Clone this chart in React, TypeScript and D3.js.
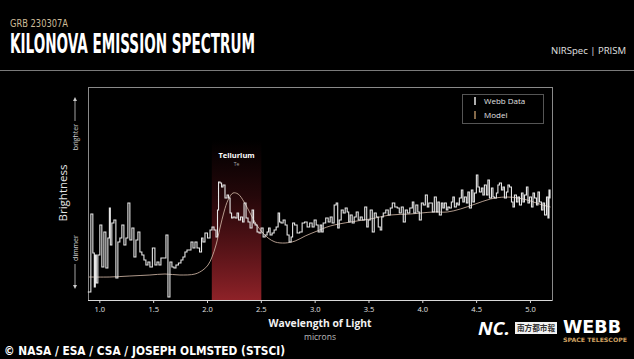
import * as d3 from "d3";

// Webb NIRSpec/PRISM spectrum, [wavelength (microns), brightness (arb.)]
const webbSpectrum: [number, number][] = [
  [0.888, 8], [0.907, 8], [0.926, 86], [0.944, 47], [0.953, 13], [0.963, 45], [0.972, 17], [0.991, 45],
  [1.009, 75], [1.028, 33], [1.047, 68], [1.065, 32], [1.084, 62], [1.093, 92], [1.102, 55], [1.121, 77],
  [1.14, 80], [1.158, 22], [1.177, 58], [1.195, 62], [1.214, 75], [1.233, 55], [1.251, 62], [1.27, 97],
  [1.288, 60], [1.307, 72], [1.326, 43], [1.344, 60], [1.363, 68], [1.381, 48], [1.4, 45], [1.419, 40],
  [1.437, 35], [1.456, 38], [1.474, 33], [1.502, 52], [1.521, 35], [1.54, 38], [1.558, 35], [1.577, 42],
  [1.605, 42], [1.623, 65], [1.642, 3], [1.66, 38], [1.679, 33], [1.698, 32], [1.716, 35], [1.744, 37],
  [1.763, 40], [1.781, 43], [1.8, 48], [1.819, 50], [1.837, 50], [1.856, 58], [1.874, 52], [1.893, 58],
  [1.912, 52], [1.94, 48], [1.949, 62], [1.967, 58], [1.986, 67], [2.014, 62], [2.033, 70], [2.051, 73],
  [2.07, 70], [2.088, 63], [2.098, 90], [2.107, 118], [2.126, 117], [2.135, 113], [2.153, 115], [2.172, 102],
  [2.191, 105], [2.2, 102], [2.219, 87], [2.228, 82], [2.247, 83], [2.265, 82], [2.284, 87], [2.293, 80],
  [2.321, 83], [2.33, 78], [2.349, 97], [2.367, 82], [2.386, 78], [2.405, 72], [2.423, 90], [2.433, 77],
  [2.451, 75], [2.47, 68], [2.488, 67], [2.507, 72], [2.526, 63], [2.544, 65], [2.563, 68], [2.572, 72],
  [2.591, 65], [2.609, 67], [2.628, 70], [2.647, 73], [2.665, 87], [2.674, 78], [2.693, 77], [2.712, 80],
  [2.73, 75], [2.749, 65], [2.767, 58], [2.786, 63], [2.795, 77], [2.823, 75], [2.842, 67], [2.87, 68],
  [2.888, 77], [2.916, 78], [2.935, 73], [2.963, 77], [2.981, 73], [3.0, 80], [3.019, 75], [3.037, 68],
  [3.056, 75], [3.065, 68], [3.084, 77], [3.112, 82], [3.13, 78], [3.149, 83], [3.167, 77], [3.186, 95],
  [3.205, 97], [3.214, 72], [3.233, 80], [3.251, 90], [3.27, 87], [3.288, 92], [3.307, 88], [3.316, 78],
  [3.335, 85], [3.353, 77], [3.372, 83], [3.391, 88], [3.409, 80], [3.428, 83], [3.447, 80], [3.474, 93],
  [3.484, 73], [3.502, 80], [3.521, 90], [3.54, 68], [3.558, 87], [3.577, 83], [3.595, 73], [3.614, 70],
  [3.623, 83], [3.642, 87], [3.67, 90], [3.688, 85], [3.707, 92], [3.726, 97], [3.753, 93], [3.772, 92],
  [3.791, 87], [3.809, 93], [3.828, 78], [3.847, 90], [3.865, 87], [3.893, 92], [3.912, 98], [3.921, 87],
  [3.949, 95], [3.958, 88], [3.977, 80], [3.995, 97], [4.014, 95], [4.033, 105], [4.051, 93], [4.06, 97],
  [4.079, 97], [4.098, 88], [4.116, 103], [4.135, 88], [4.144, 98], [4.163, 85], [4.181, 97], [4.191, 92],
  [4.209, 97], [4.228, 90], [4.237, 93], [4.256, 92], [4.274, 98], [4.284, 103], [4.302, 93], [4.321, 97],
  [4.33, 95], [4.349, 102], [4.367, 110], [4.377, 98], [4.395, 103], [4.414, 97], [4.423, 108], [4.442, 92],
  [4.46, 110], [4.47, 98], [4.488, 107], [4.507, 125], [4.516, 113], [4.535, 108], [4.553, 112], [4.563, 105],
  [4.581, 115], [4.6, 105], [4.609, 120], [4.628, 102], [4.647, 112], [4.656, 103], [4.674, 102], [4.693, 107],
  [4.702, 115], [4.721, 117], [4.74, 110], [4.749, 113], [4.767, 102], [4.786, 108], [4.795, 115], [4.814, 113],
  [4.833, 98], [4.842, 93], [4.86, 105], [4.879, 98], [4.888, 103], [4.907, 95], [4.926, 107], [4.935, 98],
  [4.953, 105], [4.972, 113], [4.981, 97], [5.0, 103], [5.019, 93], [5.028, 107], [5.047, 102], [5.065, 95],
  [5.074, 108], [5.093, 98], [5.112, 90], [5.121, 97], [5.14, 85], [5.158, 103], [5.167, 82], [5.177, 110],
  [5.186, 102],
];

// kilonova model curve
const modelSpectrum: [number, number][] = [
  [0.898, 23], [1.093, 23], [1.279, 24], [1.465, 25], [1.605, 26], [1.744, 25], [1.884, 26], [1.958, 30],
  [2.005, 35], [2.042, 43], [2.079, 55], [2.116, 72], [2.153, 88], [2.191, 100], [2.237, 107], [2.284, 106],
  [2.34, 98], [2.395, 87], [2.451, 76], [2.507, 68], [2.563, 62], [2.628, 58], [2.721, 57], [2.814, 59],
  [2.907, 64], [3.019, 69], [3.14, 74], [3.326, 78], [3.512, 81], [3.698, 85], [3.884, 86], [4.098, 88],
  [4.228, 88], [4.349, 91], [4.488, 96], [4.628, 101], [4.767, 103], [4.888, 102], [5.0, 99], [5.112, 95],
  [5.186, 93],
];

const xTicks = [1.0, 1.5, 2.0, 2.5, 3.0, 3.5, 4.0, 4.5, 5.0];
const telluriumBand = [2.04, 2.5];
const legendItems = [
  { label: "Webb Data", color: "#e8e8e8" },
  { label: "Model", color: "#b08d62" },
];

const W = 634;
const H = 359;
const condensed = "'DejaVu Sans Condensed', 'Liberation Sans Narrow', 'Roboto', sans-serif";
const sans = "'Open Sans', 'Noto Sans', 'DejaVu Sans', sans-serif";

export default function App() {
  const x = d3.scaleLinear().domain([0.89, 5.2]).range([88, 552]);
  const y = d3.scaleLinear().domain([0, 213]).range([300, 87]);
  const [x0, x1] = x.range();
  const [yb, yt] = y.range();

  const dataLine = d3.line<[number, number]>()
    .x((d) => x(d[0])).y((d) => y(d[1])).curve(d3.curveStep);
  const modelLine = d3.line<[number, number]>()
    .x((d) => x(d[0])).y((d) => y(d[1])).curve(d3.curveCatmullRom);

  const bandX0 = x(telluriumBand[0]);
  const bandX1 = x(telluriumBand[1]);
  const bandMid = (bandX0 + bandX1) / 2;

  return (
    <svg width={W} height={H} style={{ position: "absolute", left: 0, top: 0, display: "block" }}>
      <defs>
        <linearGradient id="te" x1="0" y1="0" x2="0" y2="1">
          <stop offset="0" stopColor="#7a1820" stopOpacity={0} />
          <stop offset="0.35" stopColor="#7a1820" stopOpacity={0.3} />
          <stop offset="1" stopColor="#8e2228" stopOpacity={1} />
        </linearGradient>
        <marker id="ah" viewBox="0 0 6 6" refX="3" refY="3" markerWidth="5" markerHeight="5" orient="auto-start-reverse">
          <path d="M0,0 L6,3 L0,6 z" fill="#cccccc" />
        </marker>
      </defs>
      <rect width={W} height={H} fill="#000" />

      {/* header */}
      <text x={10} y={27} fill="#cdbb98" fontFamily={condensed} fontSize={10} textLength={58} lengthAdjust="spacingAndGlyphs">GRB 230307A</text>
      <text x={10} y={53} fill="#fff" fontFamily={condensed} fontWeight="bold" fontSize={26} textLength={245} lengthAdjust="spacingAndGlyphs">KILONOVA EMISSION SPECTRUM</text>
      <text x={626} y={54} fill="#e0e0e0" fontFamily={sans} fontSize={9} textAnchor="end" textLength={75} lengthAdjust="spacingAndGlyphs">NIRSpec | PRISM</text>
      <line x1={0} x2={W} y1={70.5} y2={70.5} stroke="#7a7a7a" strokeWidth={1} />

      {/* tellurium band */}
      <rect x={bandX0} y={140} width={bandX1 - bandX0} height={yb - 140} fill="url(#te)" />
      <text x={bandMid} y={158} fill="#fff" fontFamily={sans} fontWeight="bold" fontSize={7.5} textAnchor="middle">Tellurium</text>
      <text x={bandMid} y={166} fill="#aaa" fontFamily={sans} fontSize={5} textAnchor="middle">Te</text>

      {/* frame */}
      <rect x={x0 + 0.5} y={yt + 0.5} width={x1 - x0} height={yb - yt} fill="none" stroke="#8a8a8a" strokeWidth={1} />
      <line x1={x0} x2={x1} y1={yb + 0.5} y2={yb + 0.5} stroke="#d8d8d8" strokeWidth={1.2} />
      {xTicks.map((t) => (
        <g key={t} transform={`translate(${x(t)},${yb})`}>
          <line y1={0} y2={3} stroke="#d8d8d8" strokeWidth={1} />
          <text y={12} fill="#e0e0e0" fontFamily={sans} fontSize={7.5} textAnchor="middle">{t.toFixed(1)}</text>
        </g>
      ))}

      {/* model and data */}
      <path d={modelLine(modelSpectrum) ?? ""} fill="none" stroke="#cdb3a2" strokeOpacity={0.85} strokeWidth={1} />
      <path d={dataLine(webbSpectrum) ?? ""} fill="none" stroke="#e6e6e6" strokeWidth={1.1} strokeLinejoin="miter" />

      {/* legend */}
      <rect x={462.5} y={94.5} width={81} height={29} fill="#000" stroke="#555" strokeWidth={1} />
      {legendItems.map((d, i) => (
        <g key={d.label} transform={`translate(475,${101 + i * 14})`}>
          <line x1={0} x2={0} y1={-4} y2={4} stroke={d.color} strokeWidth={1.5} />
          <text x={9} y={3} fill="#e0e0e0" fontFamily={sans} fontSize={8}>{d.label}</text>
        </g>
      ))}

      {/* y-axis label */}
      <text transform="translate(67,193) rotate(-90)" fill="#e6e6e6" fontFamily={sans} fontSize={10.5} textAnchor="middle" textLength={57} lengthAdjust="spacingAndGlyphs">Brightness</text>
      <text transform="translate(77.5,137) rotate(-90)" fill="#cfcfcf" fontFamily={sans} fontSize={7} textAnchor="middle">brighter</text>
      <text transform="translate(77.5,248) rotate(-90)" fill="#cfcfcf" fontFamily={sans} fontSize={7} textAnchor="middle">dimmer</text>
      <line x1={75} x2={75} y1={121} y2={99} stroke="#cccccc" strokeWidth={0.8} markerEnd="url(#ah)" />
      <line x1={75} x2={75} y1={264} y2={287} stroke="#cccccc" strokeWidth={0.8} markerEnd="url(#ah)" />

      {/* x-axis label */}
      <text x={320} y={327} fill="#f2f2f2" fontFamily={sans} fontWeight="bold" fontSize={10} textAnchor="middle" textLength={103} lengthAdjust="spacingAndGlyphs">Wavelength of Light</text>
      <text x={320} y={340} fill="#bdbdbd" fontFamily={sans} fontSize={8.5} textAnchor="middle">microns</text>

      {/* footer */}
      <text x={4} y={355} fill="#fff" fontFamily={condensed} fontWeight="bold" fontSize={12} textLength={281} lengthAdjust="spacingAndGlyphs">© NASA / ESA / CSA / JOSEPH OLMSTED (STSCI)</text>
      <text x={478} y={335} fill="#fff" fontFamily={sans} fontWeight="bold" fontStyle="italic" fontSize={17} textLength={32} lengthAdjust="spacingAndGlyphs">NC.</text>
      <rect x={515} y={322} width={42} height={12} fill="#f2f2f2" />
      <text x={536} y={331} fill="#333" fontFamily="'Noto Sans CJK TC', sans-serif" fontWeight="bold" fontSize={8} textAnchor="middle" textLength={38} lengthAdjust="spacingAndGlyphs">南方都市報</text>
      <text x={563} y={333} fill="#fff" fontFamily={condensed} fontWeight="bold" fontSize={17} textLength={58} lengthAdjust="spacingAndGlyphs">WEBB</text>
      <text x={563} y={342} fill="#d0a060" fontFamily={condensed} fontWeight="bold" fontSize={6} textLength={64} lengthAdjust="spacingAndGlyphs">SPACE TELESCOPE</text>
    </svg>
  );
}
